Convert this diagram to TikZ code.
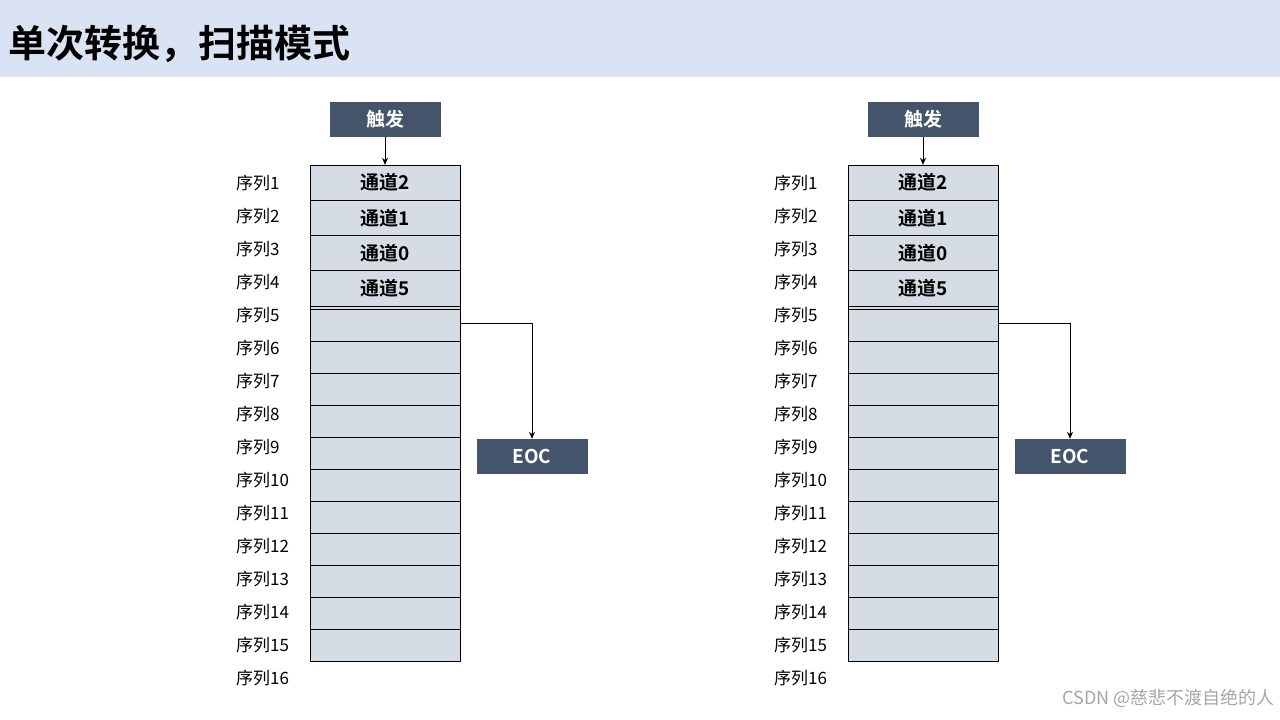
\documentclass[tikz,border=0pt]{standalone}
\usepackage{fontspec}
\newfontfamily\cjk{Noto Sans CJK SC}[BoldFont={Noto Sans CJK SC Bold}]
\usetikzlibrary{positioning,arrows.meta}
\definecolor{headbg}{HTML}{DAE3F3}
\definecolor{cellbg}{HTML}{D6DCE4}
\definecolor{darkbox}{HTML}{44546A}
\tikzset{
  cell/.style={draw=black,fill=cellbg,minimum width=150pt,inner sep=0pt,font=\cjk\bfseries\fontsize{19}{20}\selectfont},
  tag/.style={fill=darkbox,text=white,minimum width=111pt,minimum height=35pt,inner sep=0pt,font=\cjk\bfseries\fontsize{19}{20}\selectfont},
  seq/.style={anchor=west,inner sep=0pt,font=\cjk\fontsize{17}{18}\selectfont},
  link/.style={thick,-{Stealth[length=7pt,width=6pt]}}
}
\newcommand{\seqblock}[2]{%
  % upper five rows with channels
  \foreach \ch [count=\i] in {2,1,0,5,3}
    \node[cell,minimum height=35.2pt] (#2c\i) at (#1+385,165+35.2*\i-17.6) {通道\ch};
  % empty rows
  \foreach \i in {6,...,16}
    \node[cell,minimum height=32pt] (#2c\i) at (#1+385,341+32*\i-192-16) {};
  \foreach \i in {1,...,16}
    \node[seq] (#2s\i) at (#1+236,183+33*\i-33) {序列\i};
  \node[tag] (#2trig) at (#1+385,119.5) {触发};
  \node[tag] (#2eoc) at (#1+532,456.5) {EOC};
  \draw[link] (#2trig.south) -- (#2c1.north);
  \draw[link] (#2c5.east) -| (#2eoc.north);
}
\begin{document}
\begin{tikzpicture}[x=1pt,y=-1pt]
  \useasboundingbox (0,0) rectangle (1280,720);
  \fill[headbg] (0,0) rectangle (1280,77);
  \node[anchor=west,inner sep=0pt,font=\cjk\bfseries\fontsize{38}{40}\selectfont] (title) at (8,44) {单次转换，扫描模式};
  \seqblock{0}{a}
  \seqblock{538}{b}
  \node[anchor=east,inner sep=0pt,text=gray!70,font=\cjk\fontsize{18}{20}\selectfont] (mark) at (1275,698) {CSDN @慈悲不渡自绝的人};
\end{tikzpicture}
\end{document}
